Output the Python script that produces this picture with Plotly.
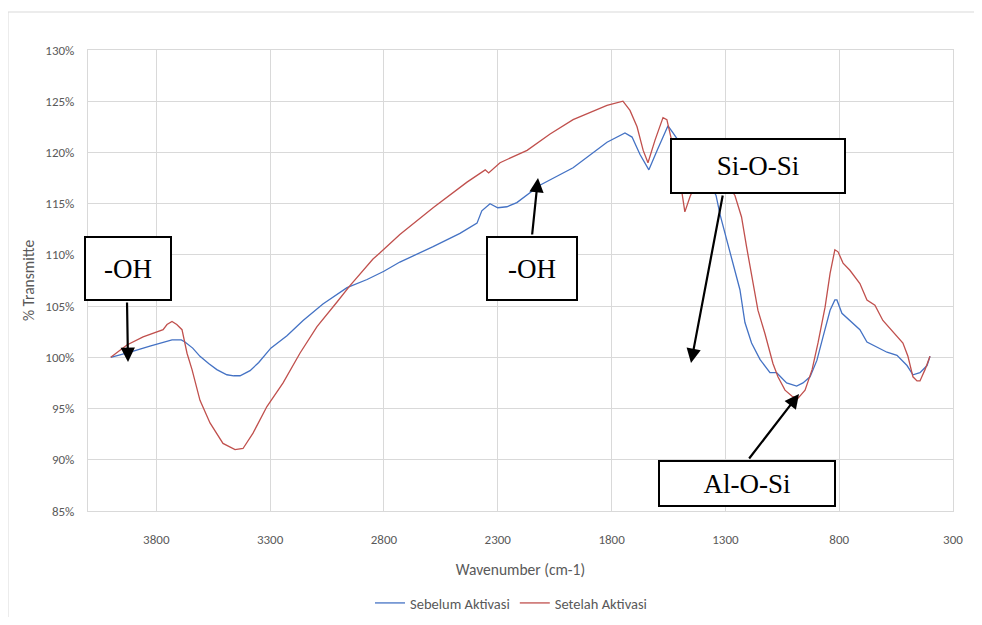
import plotly.graph_objects as go

# ---- data ----
wn_blue = [4000, 3915, 3828, 3731, 3690, 3674, 3640, 3608, 3570, 3534, 3490, 3460, 3432, 3388,
           3350, 3331, 3297, 3226, 3155, 3068, 3000, 2962, 2874, 2800, 2730, 2584, 2466, 2391,
           2370, 2334, 2300, 2260, 2216, 2115, 1969, 1820, 1741, 1710, 1675, 1636, 1600, 1552,
           1530, 1490, 1440, 1390, 1341, 1323, 1294, 1264, 1236, 1214, 1185, 1148, 1104, 1075,
           1031, 987, 959, 928, 898, 871, 840, 819, 810, 788, 753, 709, 678, 621, 590, 546,
           502, 476, 445, 414, 401]
t_blue = [100.0, 100.5, 101.1, 101.7, 101.7, 101.5, 100.9, 100.1, 99.4, 98.8, 98.3, 98.2, 98.2, 98.7,
          99.5, 100.0, 100.9, 102.1, 103.6, 105.2, 106.2, 106.8, 107.6, 108.4, 109.3, 110.8, 112.1, 113.1,
          114.3, 115.0, 114.6, 114.7, 115.1, 116.8, 118.5, 121.0, 121.9, 121.5, 119.8, 118.3, 120.2, 122.6,
          121.9, 120.6, 119.0, 117.8, 115.8, 113.9, 111.5, 109.2, 106.6, 103.4, 101.4, 99.8, 98.5, 98.5,
          97.5, 97.2, 97.5, 98.1, 99.7, 102.0, 104.6, 105.6, 105.6, 104.3, 103.6, 102.7, 101.5, 100.9, 100.5, 100.2,
          99.2, 98.3, 98.5, 99.2, 100.1]

wn_red = [4000, 3950, 3929, 3858, 3797, 3770, 3753, 3731, 3710, 3687, 3665, 3643, 3608, 3564,
          3507, 3454, 3419, 3375, 3314, 3243, 3169, 3094, 3006, 2949, 2848, 2817, 2730, 2584,
          2435, 2378, 2355, 2340, 2290, 2171, 2070, 1969, 1820, 1750, 1719, 1688, 1661, 1640,
          1609, 1574, 1557, 1530, 1499, 1478, 1455, 1420, 1380, 1330, 1290, 1258, 1229, 1207,
          1185, 1157, 1126, 1104, 1091, 1069, 1038, 1007, 981, 950, 919, 893, 862, 840, 819,
          805, 783, 753, 709, 678, 643, 608, 564, 520, 498, 476, 458, 445, 423, 401]
t_red = [100.0, 100.8, 101.2, 102.0, 102.5, 102.7, 103.2, 103.5, 103.2, 102.7, 100.4, 98.8, 95.8, 93.6,
         91.6, 91.0, 91.1, 92.6, 95.2, 97.5, 100.4, 103.0, 105.4, 107.0, 109.6, 110.2, 112.0, 114.6,
         117.1, 117.9, 118.3, 118.0, 119.0, 120.2, 121.8, 123.2, 124.6, 125.0, 124.1, 122.5, 120.2, 119.0,
         121.2, 123.4, 123.2, 120.6, 117.3, 114.2, 115.7, 117.5, 118.0, 117.4, 116.8, 115.8, 113.7, 110.8,
         107.9, 104.6, 102.3, 100.5, 99.4, 98.1, 96.8, 96.2, 96.0, 96.8, 98.8, 101.4, 104.9, 108.2, 110.5,
         110.3, 109.2, 108.5, 107.2, 105.6, 105.1, 103.6, 102.5, 101.4, 100.1, 98.1, 97.7, 97.7, 98.8, 100.1]

series_names = ["Sebelum Aktivasi", "Setelah Aktivasi"]
box_labels = ["-OH", "-OH", "Si-O-Si", "Al-O-Si"]

# ---- layout helpers (viewport pixel -> paper); page body has an 8px margin ----
OFF = 8
L, R, T, B = 88, 953, 50, 511          # plot area in viewport pixels
W, H = 982 - 2 * OFF, 625 - 2 * OFF    # figure size
def px(x):
    return (x - L) / (R - L)
def py(y):
    return (B - y) / (B - T)

fig = go.Figure()
fig.add_trace(go.Scatter(x=wn_blue, y=t_blue, mode="lines", name=series_names[0],
                         line=dict(color="#4472C4", width=1.3)))
fig.add_trace(go.Scatter(x=wn_red, y=t_red, mode="lines", name=series_names[1],
                         line=dict(color="#C0504D", width=1.3)))

grid = "#d9d9d9"
sans = "Carlito, Liberation Sans Narrow, Roboto, sans-serif"
tickfont = dict(family=sans, size=13, color="#595959")
titlefont = dict(family=sans, size=15.5, color="#595959")

fig.update_layout(
    width=W, height=H,
    margin=dict(l=L - OFF, r=W - (R - OFF), t=T - OFF, b=H - (B - OFF), autoexpand=False),
    paper_bgcolor="white", plot_bgcolor="white",
    showlegend=True,
    legend=dict(orientation="h", x=px(511), xanchor="center", y=py(603), yanchor="middle",
                font=dict(family=sans, size=14.5, color="#595959"), itemwidth=30),
    xaxis=dict(range=[4100, 300], tick0=300, dtick=500, showgrid=True, gridcolor=grid, gridwidth=1,
               showline=True, linecolor=grid, mirror=True, zeroline=False, ticks="",
               tickfont=tickfont, ticklabelstandoff=16, automargin=False,
               title=dict(text="Wavenumber (cm-1)", standoff=18, font=titlefont)),
    yaxis=dict(range=[85, 130], tick0=85, dtick=5, ticksuffix="%", showgrid=True, gridcolor=grid, gridwidth=1,
               showline=True, linecolor=grid, mirror=True, zeroline=False, ticks="",
               tickfont=tickfont, ticklabelstandoff=10, automargin=False,
               title=dict(text="% Transmitte", standoff=6, font=titlefont)),
)

# outer chart border (light grey)
fig.add_shape(type="rect", xref="paper", yref="paper",
              x0=px(8), x1=px(1000), y0=py(660), y1=py(12),
              line=dict(color=grid, width=1), fillcolor="rgba(0,0,0,0)", layer="below")

# label boxes (centre x, centre y, width, height) in viewport pixels
boxes = [(128, 268.5, 88, 65), (532, 268.5, 92, 65), (758, 166, 176, 56), (747, 483.5, 178, 47)]
serif = dict(family="Liberation Serif, Times New Roman, serif", size=27, color="black")
for (cx, cy, bw, bh), lab in zip(boxes, box_labels):
    fig.add_annotation(xref="paper", yref="paper", x=px(cx), y=py(cy), text=lab,
                       xanchor="center", yanchor="middle",
                       showarrow=False, font=serif, bgcolor="white",
                       bordercolor="black", borderwidth=2, borderpad=0,
                       width=bw - 4, height=bh - 4, align="center", valign="middle")

# arrows: (head x, head y, tail x, tail y) in viewport pixels
arrows = [(128, 362, 127, 301), (538, 178, 532, 236), (691, 363, 723, 194), (799, 394, 748, 460)]
for hx, hy, tx, ty in arrows:
    fig.add_annotation(xref="paper", yref="paper", x=px(hx), y=py(hy), text="",
                       showarrow=True, axref="pixel", ayref="pixel", ax=tx - hx, ay=ty - hy,
                       arrowhead=2, arrowsize=1.3, arrowwidth=2.2, arrowcolor="black", standoff=0)

fig.write_html("out.html")
